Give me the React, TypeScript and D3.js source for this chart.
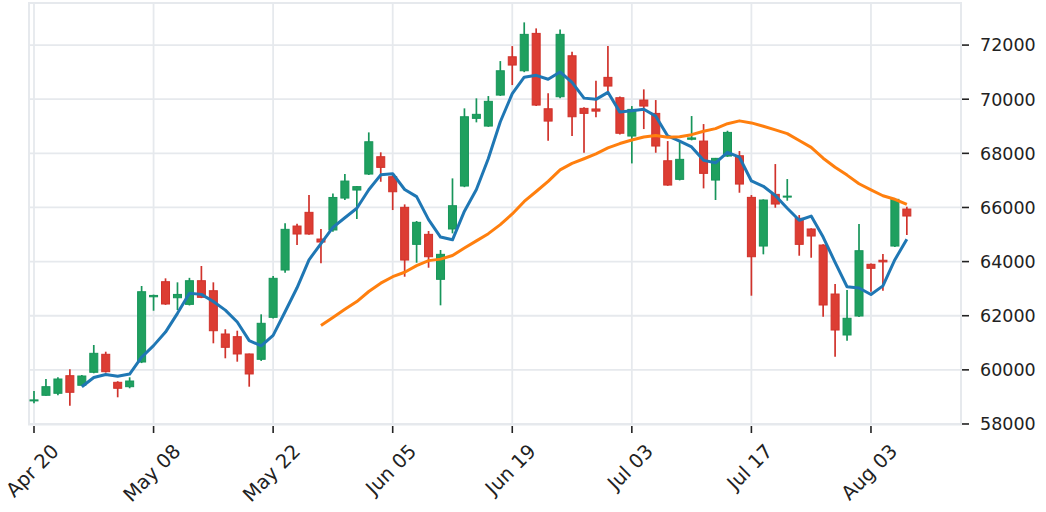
import { useRef, useEffect } from 'react';
import { select, scaleLinear, line, mean } from 'd3';

const W = 1046;
const H = 512;

// x tick labels sit on candle indices (non-trading days skipped)
const tickIdx = [0, 10, 20, 30, 40, 50, 60, 70];
const tickLabels = ['Apr 20', 'May 08', 'May 22', 'Jun 05', 'Jun 19', 'Jul 03', 'Jul 17', 'Aug 03'];
const yTicks = [58000, 60000, 62000, 64000, 66000, 68000, 70000, 72000];

const opens = [
    58870, 59060, 59134, 59784, 59430, 59910, 60575, 59540, 59378, 60290,
    62700, 63257, 62665, 62420, 63294, 62924, 61325, 61226, 60587, 60390,
    61941, 63689, 65314, 65820, 64834, 65168, 66348, 66644, 67235, 67875,
    67137, 66005, 64637, 65007, 63345, 65205, 66792, 69293, 69008, 70153,
    71568, 71051, 72432, 69647, 70092, 71605, 69662, 69640, 70807, 70055,
    68639, 69969, 69476, 67726, 67039, 68520, 68454, 67013, 67900, 67911,
    66373, 64575, 66484, 66390, 65598, 65205, 64612, 62802, 61288, 61990,
    63900, 64050, 64575, 65942,
];
const highs = [
    59219, 59662, 59725, 60020, 59810, 60918, 60671, 59580, 59725, 63098,
    62780, 63381, 63234, 63400, 63837, 63234, 61500, 61447, 60600, 62052,
    63467, 65414, 65400, 66459, 65205, 66520, 67235, 66790, 68774, 68037,
    67230, 66114, 65500, 65130, 64428, 67075, 69662, 70032, 70117, 71409,
    71963, 72839, 72617, 70216, 72580, 71753, 69700, 70680, 71963, 70100,
    69747, 70364, 69969, 68454, 68428, 69378, 69082, 67830, 68835, 68085,
    66459, 66300, 67604, 67050, 65720, 65230, 64640, 63172, 62950, 65388,
    63930, 64280, 66330, 66027,
];
const lows = [
    58765, 59040, 59060, 58676, 59400, 59873, 59900, 58986, 59319, 60250,
    62185, 62400, 62211, 62380, 62650, 60981, 60427, 60302, 59378, 60330,
    61900, 63590, 64612, 64990, 63936, 65100, 66275, 65573, 67200, 66950,
    65905, 63441, 63958, 63774, 62384, 65044, 66750, 69145, 68980, 70120,
    70523, 71000, 69750, 68465, 70032, 68639, 68022, 69330, 70153, 68700,
    67628, 68897, 68022, 66800, 67000, 68480, 66705, 66275, 67870, 66545,
    62740, 64268, 65990, 66250, 64217, 64143, 61964, 60487, 61077, 61950,
    62887, 62924, 64540, 64982,
];
const closes = [
    58890, 59378, 59662, 59171, 59773, 60611, 59932, 59319, 59588, 62887,
    62750, 62433, 62787, 63294, 62680, 61446, 60833, 60587, 59848, 61720,
    63382, 65192, 65019, 65019, 64723, 66370, 66976, 66770, 68428, 67482,
    66581, 64058, 65451, 64180, 64268, 66065, 69352, 69441, 69921, 71051,
    71262, 72396, 69783, 69192, 72396, 69352, 69477, 69560, 70486, 68742,
    69624, 69747, 68270, 66828, 67778, 68570, 67260, 67815, 68774, 66865,
    64180, 66275, 66127, 66420, 64637, 64945, 62396, 61472, 61905, 64402,
    63752, 63990, 66300, 65684,
];

const mavWindows = [5, 25];
const mavColors = ['#1f77b4', '#ff7f0e'];

const rolling = (vals: number[], n: number) =>
    vals.map((v, i) => (i < n - 1 ? null : (mean(vals.slice(i - n + 1, i + 1)) as number)));

export default function App() {
    const svgRef: { current: SVGSVGElement | null } = useRef(null);

    useEffect(() => {
        const svg = select(svgRef.current);
        svg.selectAll('*').remove();

        const left = 29;
        const right = 961;
        const top = 3;
        const bottom = 424.5;

        // candle spacing: 11.957px per bar, first bar at x=34
        const xScale = scaleLinear().domain([-0.418, 77.53]).range([left, right]);
        const yScale = scaleLinear().domain([57981, 73555]).range([bottom, top]);
        const grid = '#e6e9ed';
        const font = 'DejaVu Sans, sans-serif';

        // grid
        svg.append('g')
            .selectAll('line')
            .data(yTicks)
            .join('line')
            .attr('x1', left)
            .attr('x2', right)
            .attr('y1', (d) => yScale(d))
            .attr('y2', (d) => yScale(d))
            .attr('stroke', grid)
            .attr('stroke-width', 1.8);
        svg.append('g')
            .selectAll('line')
            .data(tickIdx)
            .join('line')
            .attr('x1', (d) => xScale(d))
            .attr('x2', (d) => xScale(d))
            .attr('y1', top)
            .attr('y2', bottom)
            .attr('stroke', grid)
            .attr('stroke-width', 1.8);

        // frame
        svg.append('rect')
            .attr('x', left)
            .attr('y', top)
            .attr('width', right - left)
            .attr('height', bottom - top)
            .attr('fill', 'none')
            .attr('stroke', grid)
            .attr('stroke-width', 2);

        // candles
        const bw = xScale(0.67) - xScale(0);
        const candles = svg
            .append('g')
            .selectAll('g')
            .data(closes.map((c, i) => ({ i, o: opens[i], h: highs[i], l: lows[i], c })))
            .join('g');
        const fillOf = (d: any) => (d.c >= d.o ? '#1fa05f' : '#dc3d33');
        const edgeOf = (d: any) => (d.c >= d.o ? '#17955a' : '#d0322b');
        candles
            .append('line')
            .attr('x1', (d) => xScale(d.i))
            .attr('x2', (d) => xScale(d.i))
            .attr('y1', (d) => yScale(d.h))
            .attr('y2', (d) => yScale(d.l))
            .attr('stroke', edgeOf)
            .attr('stroke-width', 1.7);
        candles
            .append('rect')
            .attr('x', (d) => xScale(d.i) - bw / 2)
            .attr('width', bw)
            .attr('y', (d) => yScale(Math.max(d.o, d.c)))
            .attr('height', (d) => Math.max(1, Math.abs(yScale(d.o) - yScale(d.c))))
            .attr('fill', fillOf)
            .attr('stroke', edgeOf)
            .attr('stroke-width', 1);

        // moving averages
        mavWindows.forEach((n, k) => {
            const vals = rolling(closes, n);
            const path = line<number | null>()
                .defined((d) => d !== null)
                .x((d, i) => xScale(i))
                .y((d) => yScale(d as number));
            svg.append('path')
                .attr('d', path(vals))
                .attr('fill', 'none')
                .attr('stroke', mavColors[k])
                .attr('stroke-width', 3)
                .attr('stroke-linejoin', 'round');
        });

        // y axis on the right
        const ya = svg.append('g');
        ya.selectAll('line')
            .data(yTicks)
            .join('line')
            .attr('x1', right + 1)
            .attr('x2', right + 8)
            .attr('y1', (d) => yScale(d))
            .attr('y2', (d) => yScale(d))
            .attr('stroke', '#222')
            .attr('stroke-width', 1.6);
        ya.selectAll('text')
            .data(yTicks)
            .join('text')
            .attr('x', 980)
            .attr('y', (d) => yScale(d))
            .attr('dy', '0.36em')
            .attr('font-family', font)
            .attr('font-size', 17.5)
            .attr('fill', '#222')
            .text((d) => String(d));

        // x axis
        const xa = svg.append('g');
        xa.selectAll('line')
            .data(tickIdx)
            .join('line')
            .attr('x1', (d) => xScale(d))
            .attr('x2', (d) => xScale(d))
            .attr('y1', bottom + 1.5)
            .attr('y2', bottom + 8.5)
            .attr('stroke', '#222')
            .attr('stroke-width', 1.6);
        const labels = xa
            .selectAll('text')
            .data(tickIdx)
            .join('text')
            .attr('text-anchor', 'middle')
            .attr('dominant-baseline', 'central')
            .attr('font-family', font)
            .attr('font-size', 19.5)
            .attr('fill', '#222')
            .text((d, i) => tickLabels[i]);
        // rotated 45deg, bbox centred on the tick, top just under the tick mark
        labels.each(function (d) {
            const el = this as SVGTextElement;
            const len = el.getComputedTextLength();
            const cx = xScale(d) - 1.5;
            const cy = bottom + 17 + (len + 18) * 0.3536;
            select(el).attr('x', cx).attr('y', cy).attr('transform', `rotate(-45 ${cx} ${cy})`);
        });
    }, []);

    return (
        <svg
            ref={svgRef}
            width={W}
            height={H}
            style={{ position: 'absolute', left: 0, top: 0, background: '#fff' }}
        />
    );
}
